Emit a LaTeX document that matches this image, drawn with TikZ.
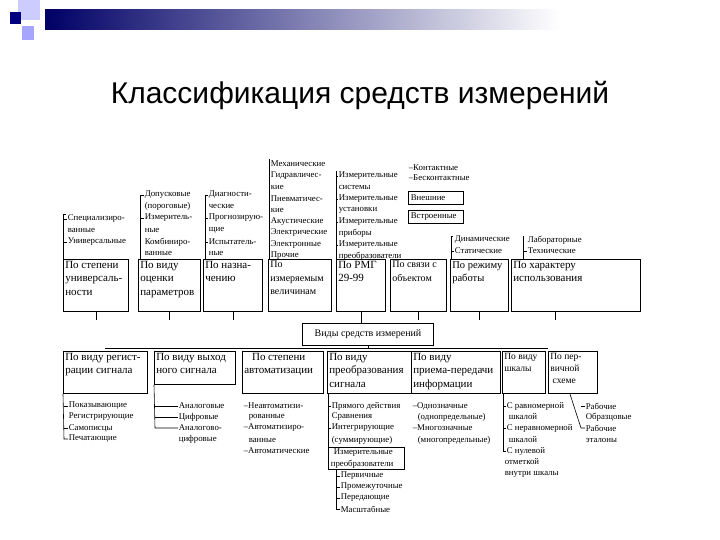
\documentclass[tikz,border=0pt]{standalone}
\usepackage{fontspec}
\setmainfont{Liberation Serif}
\newfontfamily\titlefont{Liberation Sans}
\begin{document}
\begin{tikzpicture}[x=1pt,y=-1pt,line width=0.6pt,
  it/.style={anchor=west,inner sep=0.5pt,font=\fontsize{8.8}{10}\selectfont},
  lbl/.style={anchor=north west,inner sep=2pt,align=left,font=\fontsize{11}{13.3}\selectfont},
  bx/.style={draw,anchor=north west,inner sep=0pt,line width=0.8pt}]
\useasboundingbox (0,0) rectangle (720,540);
% header decoration
\shade[left color=blue!40!black, right color=white] (45,10) rectangle (560,30);
\fill[blue!20!white] (18,0) rectangle (40,20);
\fill[blue!35!white] (22,26) rectangle (34,40);
\fill[blue!50!black] (10,12) rectangle (21,24);
\node[font=\titlefont\fontsize{30}{34}\selectfont] (title) at (360,95) {Классификация средств измерений};

% ---------- top boxes ----------
\node[bx,minimum width=65,minimum height=52] (t1) at (63,259) {};
\node[lbl] (t1l) at (t1.north west) {По степени\\универсаль-\\ности};
\node[bx,minimum width=62,minimum height=52] (t2) at (138,259) {};
\node[lbl] (t2l) at (t2.north west) {По виду\\оценки\\параметров};
\node[bx,minimum width=59,minimum height=52] (t3) at (203,259) {};
\node[lbl] (t3l) at (t3.north west) {По назна-\\чению};
\node[bx,minimum width=63,minimum height=52] (t4) at (268,259) {};
\node[lbl,font=\fontsize{10}{13.3}\selectfont] (t4l) at (t4.north west) {По\\измеряемым\\величинам};
\node[bx,minimum width=49,minimum height=52] (t5) at (336,259) {};
\node[lbl] (t5l) at (t5.north west) {По РМГ\\29-99};
\node[bx,minimum width=56,minimum height=52] (t6) at (390,259) {};
\node[lbl,font=\fontsize{10}{13.3}\selectfont] (t6l) at (t6.north west) {По связи с\\объектом};
\node[bx,minimum width=58,minimum height=52] (t7) at (450,259) {};
\node[lbl,font=\fontsize{10.5}{13.3}\selectfont] (t7l) at (t7.north west) {По режиму\\работы};
\node[bx,minimum width=129,minimum height=52] (t8) at (511,259) {};
\node[lbl] (t8l) at (t8.north west) {По характеру\\использования};

% ---------- top lists ----------
\node[it] (a1) at (67,219) {Специализиро-};
\node[it] (a2) at (67,230) {ванные};
\node[it] (a3) at (67,242) {Универсальные};
\draw (t1.north west) -- (63,214) -- (66,214);
\draw (63,219) -- (a1.west); \draw (63,242) -- (a3.west);
\node[it] (b1) at (144,195) {Допусковые};
\node[it] (b2) at (144,206) {(пороговые)};
\node[it] (b3) at (144,218) {Измеритель-};
\node[it] (b4) at (144,230) {ные};
\node[it] (b5) at (144,242) {Комбиниро-};
\node[it] (b6) at (144,253) {ванные};
\draw (t2.north west) ++(2,0) -- (140,195) -- (b1.west);
\draw (140,218) -- (b3.west);
\node[it] (c1) at (208,195) {Диагности-};
\node[it] (c2) at (208,206) {ческие};
\node[it] (c3) at (208,218) {Прогнозирую-};
\node[it] (c4) at (208,230) {щие};
\node[it] (c5) at (208,242) {Испытатель-};
\node[it] (c6) at (208,253) {ные};
\draw (t3.north west) ++(2,0) -- (205,195) -- (c1.west);
\draw (205,218) -- (c3.west); \draw (205,242) -- (c5.west);
\node[it] (d1) at (270,164) {Механические};
\node[it] (d2) at (270,176) {Гидравличес-};
\node[it] (d3) at (270,187) {кие};
\node[it] (d4) at (270,199) {Пневматичес-};
\node[it] (d5) at (270,210) {кие};
\node[it] (d6) at (270,222) {Акустические};
\node[it] (d7) at (270,233) {Электрические};
\node[it] (d8) at (270,245) {Электронные};
\node[it] (d9) at (270,256) {Прочие};
\draw (t4.north west) ++(1,0) -- (269,159);
\node[it] (e1) at (338,176) {Измерительные};
\node[it] (e2) at (338,187) {системы};
\node[it] (e3) at (338,199) {Измерительные};
\node[it] (e4) at (338,210) {установки};
\node[it] (e5) at (338,222) {Измерительные};
\node[it] (e6) at (338,233) {приборы};
\node[it] (e7) at (338,245) {Измерительные};
\node[it] (e8) at (338,256) {преобразователи};
\draw (t5.north west) -- (336,171);
\draw (336,176) -- (e1.west); \draw (336,199) -- (e3.west);
\draw (336,222) -- (e5.west); \draw (336,245) -- (e7.west);
\node[it] (f1) at (408,168) {–Контактные};
\node[it] (f2) at (408,178) {–Бесконтактные};
\node[bx,minimum width=55,minimum height=13] (f3) at (408,191) {};
\node[it] (f3l) at (410,198) {Внешние};
\node[bx,minimum width=55,minimum height=13] (f4) at (408,210) {};
\node[it] (f4l) at (410,217) {Встроенные};
\node[it] (g1) at (454,240) {Динамические};
\node[it] (g2) at (454,251) {Статические};
\draw (t7.north west) ++(1,0) -- (451,236) -- (453,236);
\draw (451,251) -- (g2.west);
\node[it] (h1) at (527,240) {Лабораторные};
\node[it] (h2) at (527,251) {Технические};
\draw (t8.north west) ++(12,0) -- (523,236);
\draw (523,251) -- (h2.west);

% ---------- middle ----------
\node[draw,line width=0.8pt,minimum width=131,minimum height=22,font=\fontsize{10}{12}\selectfont] (vid) at (368,334) {Виды средств измерений};
\coordinate (busL) at (105,348);
\coordinate (busR) at (548,348);
\draw (busL) -- (busR);
\draw (t1.south) -- ++(0,8);
\draw (t2.south) -- ++(0,8);
\draw (t3.south) -- ++(0,8);
\draw (t5.south) -- (t5.south |- vid.north);
\draw (t6.south) -- ++(0,8);
\draw (t7.south) -- ++(0,8);
\draw ([xshift=-21]t8.south) -- ++(0,8);
\draw (vid.south) -- (vid.south |- busL);

% ---------- bottom boxes ----------
\node[bx,minimum width=84,minimum height=42] (u1) at (63,351) {};
\node[lbl] (u1l) at (u1.north west) {По виду регист-\\рации сигнала};
\node[bx,minimum width=81,minimum height=33] (u2) at (154,351) {};
\node[lbl] (u2l) at (u2.north west) {По виду выход\\ного сигнала};
\node[bx,minimum width=81,minimum height=42] (u3) at (242,351) {};
\node[lbl,align=center] (u3l) at ([xshift=0]u3.north west) {По степени\\автоматизации};
\node[bx,minimum width=84,minimum height=42] (u4) at (327,351) {};
\node[lbl] (u4l) at (u4.north west) {По виду\\преобразования\\сигнала};
\node[bx,minimum width=89,minimum height=42] (u5) at (411,351) {};
\node[lbl] (u5l) at (u5.north west) {По виду\\приема-передачи\\информации};
\node[bx,minimum width=43,minimum height=42] (u6) at (502,351) {};
\node[lbl,font=\fontsize{9.5}{12}\selectfont] (u6l) at (u6.north west) {По виду\\шкалы};
\node[bx,minimum width=49,minimum height=42] (u7) at (548,351) {};
\node[lbl,font=\fontsize{9.5}{12}\selectfont] (u7l) at (u7.north west) {По пер-\\вичной\\\ схеме};

% ---------- bottom lists ----------
\node[it] (p1) at (68,406) {Показывающие};
\node[it] (p2) at (68,417) {Регистрирующие};
\node[it] (p3) at (68,428) {Самописцы};
\node[it] (p4) at (68,439) {Печатающие};
\draw (u1.south west) -- (64,439) -- (p4.west);
\draw (64,406) -- (p1.west); \draw (64,428) -- (p3.west);
\node[it] (q1) at (178,406) {Аналоговые};
\node[it] (q2) at (178,417) {Цифровые};
\node[it] (q3) at (178,428) {Аналогово-};
\node[it] (q4) at (178,439) {цифровые};
\draw (u2.south west) -- (155,428) -- (q3.west);
\draw (155,406) -- (q1.west); \draw (155,417) -- (q2.west);
\node[it] (r1) at (243,406) {–Неавтоматизи-};
\node[it] (r2) at (248,417) {рованные};
\node[it] (r3) at (243,428) {–Автоматизиро-};
\node[it] (r4) at (248,440) {ванные};
\node[it] (r5) at (243,451) {–Автоматические};
\node[it] (s1) at (331,406) {Прямого действия};
\node[it] (s2) at (331,417) {Сравнения};
\node[it] (s3) at (331,428) {Интегрирующие};
\node[it] (s4) at (331,440) {(суммирующие)};
\node[bx,minimum width=76,minimum height=22] (s5) at (328,447) {};
\node[it] (s5a) at (333,453) {Измерительные};
\node[it] (s5b) at (330,464) {преобразователи};
\draw (u4.south west) ++(1,0) -- (328,455);
\draw (328,406) -- (s1.west); \draw (328,428) -- (s3.west);
\node[it] (w1) at (340,476) {Первичные};
\node[it] (w2) at (340,487) {Промежуточные};
\node[it] (w3) at (340,498) {Передающие};
\node[it] (w4) at (340,509) {Масштабные};
\draw ([xshift=8]s5.south west) -- (336,509) -- (w4.west);
\draw (336,476) -- (w1.west); \draw (336,487) -- (w2.west); \draw (336,498) -- (w3.west);
\node[it] (v1) at (412,406) {–Однозначные};
\node[it] (v2) at (417,417) {(однопредельные)};
\node[it] (v3) at (412,428) {–Многозначные};
\node[it] (v4) at (417,440) {(многопредельные)};
\node[it] (x1) at (506,406) {С равномерной};
\node[it] (x2) at (508,417) {шкалой};
\node[it] (x3) at (506,428) {С неравномерной};
\node[it] (x4) at (508,440) {шкалой};
\node[it] (x5) at (506,451) {С нулевой};
\node[it] (x6) at (504,462) {отметкой};
\node[it] (x7) at (504,474) {внутри шкалы};
\draw ([xshift=1]u6.south west) -- (503,451) -- (x5.west);
\draw (503,406) -- (x1.west); \draw (503,428) -- (x3.west);
\node[it] (y1) at (585,406) {Рабочие};
\node[it] (y2) at (585,417) {Образцовые};
\node[it] (y3) at (585,428) {Рабочие};
\node[it] (y4) at (585,440) {эталоны};
\draw (u7.south) ++(-3,0) -- (581,428) -- (y3.west);
\draw (581,406) -- (y1.west);
\end{tikzpicture}
\end{document}
